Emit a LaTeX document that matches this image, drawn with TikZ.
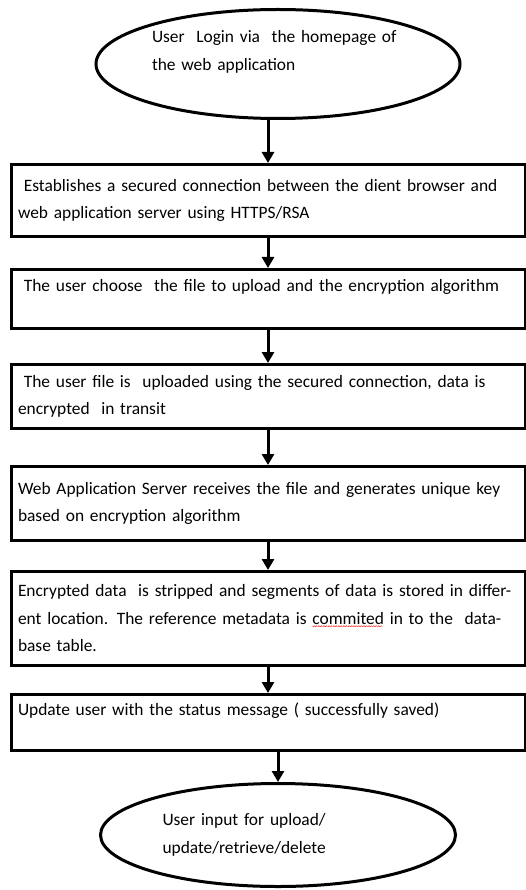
\documentclass[tikz,border=0pt]{standalone}
\usepackage{fontspec}
\setmainfont{Carlito}
\usetikzlibrary{positioning,shapes.geometric,arrows.meta}
\newcommand\redwave[1]{\setbox0\hbox{#1}\leavevmode\rlap{\raisebox{-5pt}[0pt][0pt]{\color{red}\fontsize{10}{10}\selectfont\leaders\hbox{\string~}\hskip\wd0}}\box0\relax}
\begin{document}
\begin{tikzpicture}[auto,
            every node/.style={font=\fontsize{17.4}{27.5}\selectfont},
            procbox/.style={draw, line width=3pt, align=left, text width=500pt, inner xsep=7pt, inner ysep=2pt},
            oval/.style={draw, ellipse, line width=3pt, align=left, inner sep=0pt},
            arr/.style={line width=3pt, -{Triangle[width=12pt,length=11pt]}}]
            \useasboundingbox (0pt,0pt) rectangle (526pt,-890pt);
            \node(L) [oval, text width=252pt, minimum width=364pt, minimum height=109pt] at (278pt,-64pt) {User\ \ Login via\ \ the homepage of\\the web application\\ \mbox{}};
            \node(S) [procbox, minimum height=72pt, below=43pt of L, xshift=-10pt] {\ Establishes a secured connection between the dient browser and\\web application server using HTTPS/RSA};
            \node(F) [procbox, minimum height=59pt, below=30pt of S] {\ The user choose\ \ the file to upload and the encryption algorithm\\ \mbox{}};
            \node(U) [procbox, minimum height=64pt, below=33pt of F] {\ The user file is\ \ uploaded using the secured connection, data is\\encrypted\ \ in transit};
            \node(K) [procbox, minimum height=74pt, below=35pt of U] {Web Application Server receives the file and generates unique key\\based on encryption algorithm};
            \node(D) [procbox, minimum height=94pt, below=28pt of K] {Encrypted data\ \ is stripped and segments of data is stored in differ-\\ent location. The reference metadata is \redwave{commited} in to the\ \ data-\\base table.};
            \node(M) [procbox, minimum height=56pt, below=26pt of D] {Update user with the status message ( successfully saved)\\ \mbox{}};
            \node(I) [oval, text width=231pt, minimum width=355pt, minimum height=103pt, below=30pt of M, xshift=10pt] {User input for upload/\\update/retrieve/delete};
            \draw[arr](S.north |- L.south) -- (S.north);
            \draw[arr](S) -- (F);
            \draw[arr](F) -- (U);
            \draw[arr](U) -- (K);
            \draw[arr](K) -- (D);
            \draw[arr](D) -- (M);
            \draw[arr](M.south -| I.north) -- (I.north);
\end{tikzpicture}
\end{document}
